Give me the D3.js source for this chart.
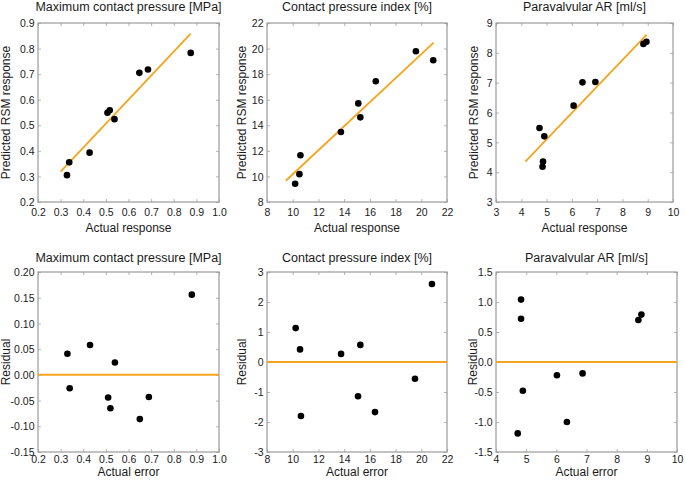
<!DOCTYPE html>
<html>
<head>
<meta charset="utf-8">
<script src="https://cdn.jsdelivr.net/npm/d3@7"></script>
<style>
  html, body { margin: 0; padding: 0; background: #fff; }
  svg { display: block; font-family: "Liberation Sans", Arial, sans-serif; }
</style>
</head>
<body>
<svg id="chart" width="685" height="482"></svg>
<script>
// ---------------- DATA ----------------
const titles = ["Maximum contact pressure [MPa]", "Contact pressure index [%]", "Paravalvular AR [ml/s]"];

// Maximum contact pressure
const mcpActual    = [0.328, 0.338, 0.428, 0.507, 0.517, 0.538, 0.648, 0.686, 0.875];
const mcpPredicted = [0.305, 0.355, 0.393, 0.549, 0.559, 0.524, 0.705, 0.718, 0.783];
const mcpFitX      = [0.30, 0.875];
const mcpFitY      = [0.319, 0.858];
const mcpResidX    = [0.33, 0.34, 0.43, 0.51, 0.52, 0.54, 0.65, 0.69, 0.88];
const mcpResidual  = [0.041, -0.026, 0.058, -0.044, -0.065, 0.024, -0.086, -0.043, 0.156];
const mcpTicksX    = [0.2, 0.3, 0.4, 0.5, 0.6, 0.7, 0.8, 0.9, 1.0];
const mcpTicksY    = [0.2, 0.3, 0.4, 0.5, 0.6, 0.7, 0.8, 0.9];
const mcpResTicksY = [-0.15, -0.10, -0.05, 0.00, 0.05, 0.10, 0.15, 0.20];

// Contact pressure index
const cpiActual    = [10.19, 10.52, 10.60, 13.75, 15.10, 15.26, 16.46, 19.58, 20.93];
const cpiPredicted = [9.43, 10.18, 11.66, 13.48, 15.71, 14.62, 17.45, 19.79, 19.09];
const cpiFitX      = [9.46, 20.96];
const cpiFitY      = [9.66, 20.47];
const cpiResidX    = [10.23, 10.57, 10.64, 13.76, 15.08, 15.26, 16.40, 19.51, 20.83];
const cpiResidual  = [1.13, 0.42, -1.80, 0.27, -1.14, 0.57, -1.67, -0.56, 2.60];
const cpiTicksX    = [8, 10, 12, 14, 16, 18, 20, 22];
const cpiTicksY    = [8, 10, 12, 14, 16, 18, 20, 22];
const cpiResTicksY = [-3, -2, -1, 0, 1, 2, 3];

// Paravalvular AR
const parActual    = [4.72, 4.91, 4.86, 4.84, 6.07, 6.42, 6.93, 8.83, 8.95];
const parPredicted = [5.48, 5.20, 4.36, 4.18, 6.23, 7.01, 7.02, 8.30, 8.37];
const parFitX      = [4.16, 8.96];
const parFitY      = [4.35, 8.61];
const parResidX    = [4.72, 4.89, 4.83, 4.83, 6.02, 6.35, 6.87, 8.72, 8.82];
const parResidual  = [-1.19, -0.48, 1.04, 0.72, -0.22, -1.00, -0.19, 0.70, 0.79];
const parTicksX    = [3, 4, 5, 6, 7, 8, 9, 10];
const parTicksY    = [3, 4, 5, 6, 7, 8, 9];
const parResTicksX = [4, 5, 6, 7, 8, 9, 10];
const parResTicksY = [-1.5, -1.0, -0.5, 0.0, 0.5, 1.0, 1.5];

// ---------------- LAYOUT ----------------
const fmt = d => s => d3.format("." + d + "f")(s).replace("\u2212", "-");
const ORANGE = "#f7a41d";

const panels = [
  { title: titles[0], x: mcpActual, y: mcpPredicted, fitX: mcpFitX, fitY: mcpFitY,
    tx: mcpTicksX, ty: mcpTicksY, fx: fmt(1), fy: fmt(1), xlab: "Actual response", ylab: "Predicted RSM response",
    L: 38, R: 219, T: 23, B: 202, titleY: 10.5, xlabY: 231.5, ylabOff: 28, xtY: 13.5 },
  { title: titles[1], x: cpiActual, y: cpiPredicted, fitX: cpiFitX, fitY: cpiFitY,
    tx: cpiTicksX, ty: cpiTicksY, fx: fmt(0), fy: fmt(0), xlab: "Actual response", ylab: "Predicted RSM response",
    L: 267, R: 447, T: 23, B: 202, titleY: 10.5, xlabY: 231.5, ylabOff: 21.5, xtY: 13.5 },
  { title: titles[2], x: parActual, y: parPredicted, fitX: parFitX, fitY: parFitY,
    tx: parTicksX, ty: parTicksY, fx: fmt(0), fy: fmt(0), xlab: "Actual response", ylab: "Predicted RSM response",
    L: 496, R: 673, T: 23, B: 202, titleY: 10.5, xlabY: 231.5, ylabOff: 18, xtY: 13.5 },
  { title: titles[0], x: mcpResidX, y: mcpResidual, zero: true,
    tx: mcpTicksX, ty: mcpResTicksY, fx: fmt(1), fy: fmt(2), xlab: "Actual error", ylab: "Residual",
    L: 38, R: 219, T: 272, B: 452, titleY: 261.5, xlabY: 475.5, ylabOff: 28, xtY: 10.5 },
  { title: titles[1], x: cpiResidX, y: cpiResidual, zero: true,
    tx: cpiTicksX, ty: cpiResTicksY, fx: fmt(0), fy: fmt(0), xlab: "Actual error", ylab: "Residual",
    L: 267, R: 447, T: 272, B: 452, titleY: 261.5, xlabY: 475.5, ylabOff: 21.5, xtY: 10.5 },
  { title: titles[2], x: parResidX, y: parResidual, zero: true,
    tx: parResTicksX, ty: parResTicksY, fx: fmt(0), fy: fmt(1), xlab: "Actual error", ylab: "Residual",
    L: 496, R: 677, T: 272, B: 452, titleY: 261.5, xlabY: 475.5, ylabOff: 19.5, xtY: 10.5 }
];

const svg = d3.select("#chart");

panels.forEach(p => {
  const xs = d3.scaleLinear().domain(d3.extent(p.tx)).range([p.L, p.R]);
  const ys = d3.scaleLinear().domain(d3.extent(p.ty)).range([p.B, p.T]);
  const g = svg.append("g");

  // inward ticks on all four sides
  const tickStyle = sel => {
    sel.select(".domain").remove();
    sel.selectAll(".tick line").attr("stroke", "#b5b5b5").attr("stroke-width", 1);
    sel.selectAll("text").attr("fill", "#1a1a1a").style("font-size", "10.5px")
      .style("font-family", '"Liberation Sans", Arial, sans-serif');
  };
  g.append("g").attr("transform", `translate(0,${p.B})`)
    .call(d3.axisBottom(xs).tickValues(p.tx).tickFormat(p.fx).tickSize(-3))
    .call(tickStyle)
    .call(s => s.selectAll("text").attr("dy", null).attr("y", p.xtY));
  g.append("g").attr("transform", `translate(0,${p.T})`)
    .call(d3.axisTop(xs).tickValues(p.tx).tickFormat("").tickSize(-3))
    .call(tickStyle);
  g.append("g").attr("transform", `translate(${p.L},0)`)
    .call(d3.axisLeft(ys).tickValues(p.ty).tickFormat(p.fy).tickSize(-3))
    .call(tickStyle)
    .call(s => s.selectAll("text").attr("x", -3.5).attr("dy", "0.35em"));
  g.append("g").attr("transform", `translate(${p.R},0)`)
    .call(d3.axisRight(ys).tickValues(p.ty).tickFormat("").tickSize(-3))
    .call(tickStyle);

  // frame
  g.append("rect").attr("x", p.L).attr("y", p.T)
    .attr("width", p.R - p.L).attr("height", p.B - p.T)
    .attr("fill", "none").attr("stroke", "#9a9a9a").attr("stroke-width", 1.2);

  // fit line or zero line
  if (p.zero) {
    g.append("line").attr("x1", xs(p.tx[0])).attr("x2", xs(p.tx[p.tx.length - 1]))
      .attr("y1", ys(0)).attr("y2", ys(0))
      .attr("stroke", ORANGE).attr("stroke-width", 2);
  } else {
    g.append("line").attr("x1", xs(p.fitX[0])).attr("x2", xs(p.fitX[1]))
      .attr("y1", ys(p.fitY[0])).attr("y2", ys(p.fitY[1]))
      .attr("stroke", ORANGE).attr("stroke-width", 1.8);
  }

  // points
  g.append("g").selectAll("circle").data(p.x.map((v, i) => [v, p.y[i]])).join("circle")
    .attr("cx", d => xs(d[0])).attr("cy", d => ys(d[1])).attr("r", 3.3).attr("fill", "#000");

  // titles & labels
  g.append("text").attr("x", (p.L + p.R) / 2).attr("y", p.titleY)
    .attr("text-anchor", "middle").attr("fill", "#1a1a1a").style("font-size", "12.5px").text(p.title);
  g.append("text").attr("x", (p.L + p.R) / 2).attr("y", p.xlabY)
    .attr("text-anchor", "middle").attr("fill", "#1a1a1a").style("font-size", "12px").text(p.xlab);
  g.append("text")
    .attr("transform", `translate(${p.L - p.ylabOff},${(p.T + p.B) / 2}) rotate(-90)`)
    .attr("text-anchor", "middle").attr("fill", "#1a1a1a").style("font-size", "12px").text(p.ylab);
});
</script>
</body>
</html>
